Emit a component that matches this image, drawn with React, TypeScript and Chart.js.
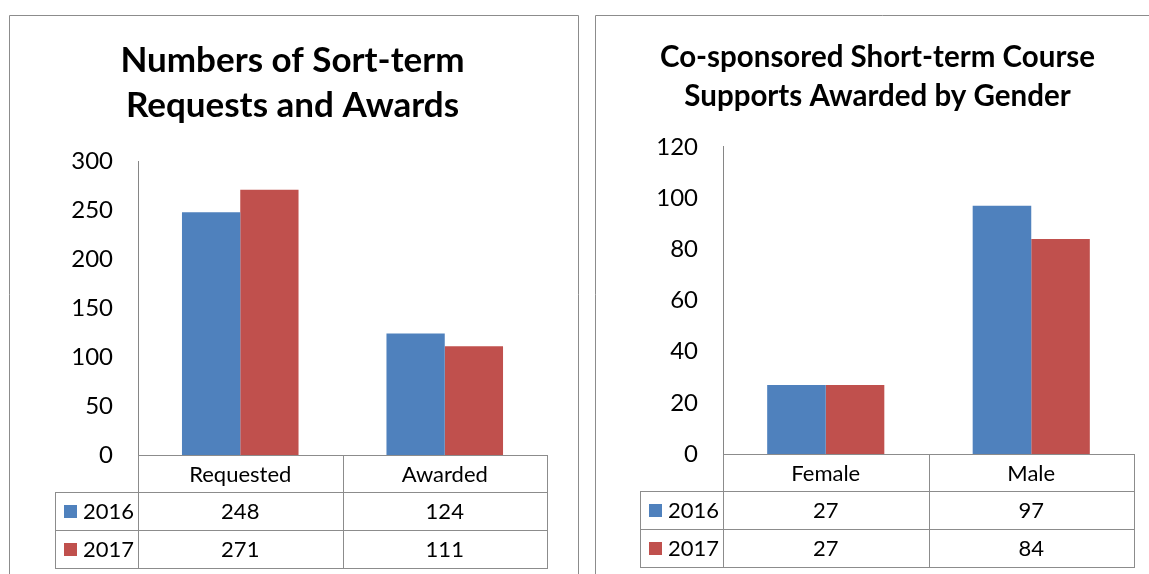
import React, { useEffect, useRef } from "react";
import { Chart, registerables } from "chart.js";

Chart.register(...registerables);

// ---------- data ----------
const seriesNames = ["2016", "2017"];
const seriesColors = ["#4F81BD", "#C0504D"];

const leftTitle = ["Numbers of Sort-term", "Requests and Awards"];
const leftCategories = ["Requested", "Awarded"];
const left2016 = [248, 124];
const left2017 = [271, 111];
const leftMax = 300;
const leftStep = 50;

const rightTitle = ["Co-sponsored Short-term Course", "Supports Awarded by Gender"];
const rightCategories = ["Female", "Male"];
const right2016 = [27, 97];
const right2017 = [27, 84];
const rightMax = 120;
const rightStep = 20;

const FONT = "Lato, 'Open Sans', 'Liberation Sans', sans-serif";
const LINE = "#8C8C8C";

// ---------- plugins ----------
const panelBorder = {
  id: "panelBorder",
  beforeDraw(chart: any, _a: any, opts: any) {
    const { ctx } = chart;
    ctx.save();
    ctx.strokeStyle = LINE;
    ctx.lineWidth = 1;
    ctx.beginPath();
    ctx.moveTo(opts.left + 0.5, chart.height);
    ctx.lineTo(opts.left + 0.5, opts.top + 0.5);
    ctx.lineTo(opts.right == null ? chart.width : opts.right + 0.5, opts.top + 0.5);
    if (opts.right != null) ctx.lineTo(opts.right + 0.5, chart.height);
    ctx.stroke();
    ctx.restore();
  },
};

const dataTable = {
  id: "dataTable",
  afterDraw(chart: any, _a: any, opts: any) {
    const { ctx, chartArea } = chart;
    const xs = chart.scales.x;
    const left = chartArea.left;
    const right = chartArea.right;
    const y0 = chartArea.bottom;
    const rows: number[] = opts.rowHeights;
    const yH = y0 + rows[0];
    const y1 = yH + rows[1];
    const y2 = y1 + rows[2];
    const lx = opts.legendLeft;
    const labels: string[] = chart.data.labels;
    const n = labels.length;
    const crisp = (v: number) => Math.round(v) + 0.5;

    ctx.save();
    ctx.strokeStyle = LINE;
    ctx.lineWidth = 1;
    const hl = (a: number, b: number, y: number) => {
      ctx.beginPath();
      ctx.moveTo(Math.round(a), crisp(y));
      ctx.lineTo(Math.round(b) + 1, crisp(y));
      ctx.stroke();
    };
    const vl = (x: number, a: number, b: number) => {
      ctx.beginPath();
      ctx.moveTo(crisp(x), Math.round(a));
      ctx.lineTo(crisp(x), Math.round(b) + 1);
      ctx.stroke();
    };
    hl(left, right, y0);
    hl(lx, right, yH);
    hl(lx, right, y1);
    hl(lx, right, y2);
    for (let i = 0; i <= n; i++) {
      vl(xs.getPixelForValue(i - 0.5), y0, y2);
    }
    vl(lx, yH, y2);

    ctx.fillStyle = "#000";
    ctx.font = `${opts.fontSize}px ${FONT}`;
    ctx.textBaseline = "middle";
    ctx.textAlign = "center";
    const yc = [(y0 + yH) / 2, (yH + y1) / 2, (y1 + y2) / 2];
    for (let i = 0; i < n; i++) {
      ctx.fillText(labels[i], xs.getPixelForValue(i), yc[0] + 1);
    }
    chart.data.datasets.forEach((ds: any, d: number) => {
      const y = yc[d + 1];
      ctx.textAlign = "center";
      ctx.fillStyle = "#000";
      for (let i = 0; i < n; i++) {
        ctx.fillText(String(ds.data[i]), xs.getPixelForValue(i), y + 1);
      }
      ctx.fillStyle = ds.backgroundColor;
      ctx.fillRect(lx + 9, Math.round(y - 6), 13, 13);
      ctx.fillStyle = "#000";
      ctx.textAlign = "left";
      ctx.fillText(ds.label, lx + 28, y + 1);
    });
    ctx.restore();
  },
};

// ---------- component ----------
type PanelProps = {
  title: string[];
  categories: string[];
  a: number[];
  b: number[];
  max: number;
  step: number;
  width: number;
  height: number;
  titleSize: number;
  titleLine: number;
  titlePadTop: number;
  titlePadBottom: number;
  axisLeft: number;
  padRight: number;
  tableHeight: number;
  borderLeft: number;
  borderRight: number | null;
};

function BarPanel(p: PanelProps) {
  const ref = useRef<HTMLCanvasElement | null>(null);
  useEffect(() => {
    if (!ref.current) return;
    const chart = new Chart(ref.current, {
      type: "bar",
      data: {
        labels: p.categories,
        datasets: [
          {
            label: seriesNames[0],
            data: p.a,
            backgroundColor: seriesColors[0],
            borderWidth: 0,
            barPercentage: 1,
            categoryPercentage: 0.57,
          },
          {
            label: seriesNames[1],
            data: p.b,
            backgroundColor: seriesColors[1],
            borderWidth: 0,
            barPercentage: 1,
            categoryPercentage: 0.57,
          },
        ],
      },
      options: {
        responsive: false,
        animation: false,
        layout: { padding: 0 },
        plugins: {
          legend: { display: false },
          tooltip: { enabled: false },
          title: {
            display: true,
            text: p.title,
            color: "#000",
            font: { family: FONT, size: p.titleSize, weight: "bold", lineHeight: p.titleLine },
            padding: { top: p.titlePadTop, bottom: p.titlePadBottom },
          },
          panelBorder: { left: p.borderLeft, top: 15, right: p.borderRight },
          dataTable: { rowHeights: [37, 38, 38], legendLeft: 55, fontSize: 22 },
        } as any,
        scales: {
          x: {
            display: true,
            grid: { display: false },
            border: { display: false },
            ticks: { display: false },
            afterFit: (s: any) => {
              s.height = p.tableHeight;
            },
          },
          y: {
            min: 0,
            max: p.max,
            grid: { display: false, drawTicks: false },
            border: { display: true, color: "#868686", width: 1 },
            ticks: {
              stepSize: p.step,
              color: "#000",
              padding: 25,
              font: { family: FONT, size: 24 },
            },
            afterFit: (s: any) => {
              s.width = p.axisLeft;
            },
          },
          spacer: {
            type: "linear",
            position: "right",
            display: true,
            grid: { display: false, drawTicks: false },
            border: { display: false },
            ticks: { display: false },
            afterFit: (s: any) => {
              s.width = p.padRight;
            },
          },
        } as any,
      },
      plugins: [panelBorder, dataTable],
    });
    return () => chart.destroy();
  }, []);
  return <canvas ref={ref} width={p.width} height={p.height} style={{ display: "block" }} />;
}

export default function App() {
  return (
    <div
      style={{
        position: "absolute",
        left: 0,
        top: 0,
        width: 1149,
        height: 574,
        background: "#fff",
        overflow: "hidden",
      }}
    >
      <div style={{ position: "absolute", left: 0, top: 0 }}>
        <BarPanel
          title={leftTitle}
          categories={leftCategories}
          a={left2016}
          b={left2017}
          max={leftMax}
          step={leftStep}
          width={585}
          height={574}
          titleSize={35}
          titleLine={1.29}
          titlePadTop={38}
          titlePadBottom={33}
          axisLeft={138}
          padRight={38}
          tableHeight={119}
          borderLeft={9}
          borderRight={578}
        />
      </div>
      <div style={{ position: "absolute", left: 585, top: 0 }}>
        <BarPanel
          title={rightTitle}
          categories={rightCategories}
          a={right2016}
          b={right2017}
          max={rightMax}
          step={rightStep}
          width={585}
          height={574}
          titleSize={29.5}
          titleLine={1.32}
          titlePadTop={38}
          titlePadBottom={31}
          axisLeft={138}
          padRight={36}
          tableHeight={120}
          borderLeft={10}
          borderRight={null}
        />
      </div>
    </div>
  );
}
